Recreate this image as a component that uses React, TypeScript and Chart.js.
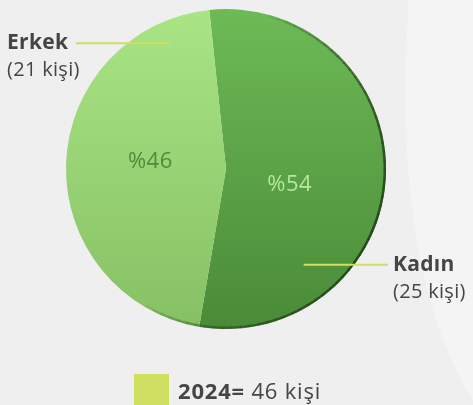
import React, { useEffect, useRef } from "react";
import { Chart, registerables } from "chart.js";

Chart.register(...registerables);

// ---- data ----
const categories = ["Kadın", "Erkek"];
const counts = [25, 21];
const percentLabels = ["%54", "%46"];
const countLabels = ["(25 kişi)", "(21 kişi)"];
const legendYear = "2024=";
const legendUnit = "kişi";

const FONT = "'Open Sans', Lato, sans-serif";
const TEXT = "#454545";
const ACCENT = "#d0de62";

const bgPlugin = {
  id: "bgPlugin",
  beforeDraw(chart: any) {
    const { ctx, width, height } = chart;
    ctx.save();
    ctx.fillStyle = "#efefef";
    ctx.fillRect(0, 0, width, height);
    ctx.beginPath();
    ctx.moveTo(width * 0.864, 0);
    ctx.bezierCurveTo(width * 0.845, height * 0.35, width * 0.86, height * 0.72, width, height * 0.99);
    ctx.lineTo(width, 0);
    ctx.closePath();
    ctx.fillStyle = "#f4f4f4";
    ctx.fill();
    ctx.restore();
  },
};

const labelPlugin = {
  id: "labelPlugin",
  afterDatasetsDraw(chart: any) {
    const { ctx, chartArea } = chart;
    const meta = chart.getDatasetMeta(0);
    const arcs = meta.data;
    if (!arcs.length) return;
    ctx.save();
    // 3D-like dark rim on right side, fading at both ends
    const a0: any = arcs[0].getProps(["x", "y", "outerRadius"], true);
    const s0 = -1.3;
    const s1 = 2.1;
    const steps = 60;
    ctx.lineWidth = 2.5;
    ctx.lineCap = "butt";
    for (let k = 0; k < steps; k++) {
      const u = (k + 0.5) / steps;
      const alpha = Math.pow(Math.sin(Math.PI * u), 0.7) * 0.85;
      ctx.beginPath();
      ctx.arc(a0.x, a0.y, a0.outerRadius - 1.2, s0 + (s1 - s0) * (k / steps), s0 + (s1 - s0) * ((k + 1) / steps) + 0.005);
      ctx.strokeStyle = `rgba(32,62,22,${alpha.toFixed(3)})`;
      ctx.stroke();
    }

    // percentage labels inside slices
    const pctColors = ["#b6e79b", "#4f8c3a"];
    const pctFrac = [0.56, 0.52];
    const pctRad = [0.41, 0.475];
    ctx.font = `400 22px ${FONT}`;
    (ctx as any).letterSpacing = "0.5px";
    ctx.textAlign = "center";
    ctx.textBaseline = "middle";
    arcs.forEach((arc: any, i: number) => {
      const p = arc.getProps(["x", "y", "startAngle", "endAngle", "outerRadius"], true);
      const a = p.startAngle + (p.endAngle - p.startAngle) * pctFrac[i];
      const r = p.outerRadius * pctRad[i];
      ctx.fillStyle = pctColors[i];
      ctx.fillText(percentLabels[i], p.x + Math.cos(a) * r, p.y + Math.sin(a) * r);
    });
    (ctx as any).letterSpacing = "0px";

    // leader lines + outer labels
    const lineFrac = [0.751, 0.89];
    const lineRad = [0.77, 0.86];
    arcs.forEach((arc: any, i: number) => {
      const p = arc.getProps(["x", "y", "startAngle", "endAngle", "outerRadius"], true);
      const a = p.startAngle + (p.endAngle - p.startAngle) * lineFrac[i];
      const r = p.outerRadius * lineRad[i];
      const ix = p.x + Math.cos(a) * r;
      const iy = p.y + Math.sin(a) * r;
      const right = Math.cos(a) > 0;
      const ex = right ? chartArea.right + 2 : chartArea.left + 10;
      ctx.beginPath();
      ctx.moveTo(ix, iy);
      ctx.lineTo(ex, iy);
      ctx.strokeStyle = ACCENT;
      ctx.lineWidth = 2;
      ctx.stroke();
      const tx = right ? ex + 5 : 7;
      ctx.textAlign = "left";
      ctx.textBaseline = "alphabetic";
      ctx.fillStyle = TEXT;
      (ctx as any).letterSpacing = "0.3px";
      ctx.font = `700 21px ${FONT}`;
      ctx.fillText(categories[i], tx, iy + 6);
      ctx.font = `400 20px ${FONT}`;
      ctx.fillText(countLabels[i], tx, iy + 33);
      (ctx as any).letterSpacing = "0px";
    });

    // custom legend
    const total = counts.reduce((s, v) => s + v, 0);
    const h = chart.height;
    const lx = chartArea.left + 68;
    const ly = h - 31;
    ctx.fillStyle = ACCENT;
    ctx.fillRect(lx, ly, 35, 35);
    ctx.fillStyle = TEXT;
    (ctx as any).letterSpacing = "0.8px";
    ctx.font = `700 22px ${FONT}`;
    ctx.textAlign = "left";
    ctx.textBaseline = "alphabetic";
    const t1 = legendYear;
    ctx.fillText(t1, lx + 44, h - 6);
    const w1 = ctx.measureText(t1).width;
    ctx.font = `400 22px ${FONT}`;
    ctx.fillText(` ${total} ${legendUnit}`, lx + 44 + w1, h - 6);
    (ctx as any).letterSpacing = "0px";
    ctx.restore();
  },
};

export default function App() {
  const ref = useRef<HTMLCanvasElement>(null);
  useEffect(() => {
    if (!ref.current) return;
    const chart = new Chart(ref.current, {
      type: "pie",
      data: {
        labels: categories,
        datasets: [
          {
            data: counts,
            borderWidth: 0,
            backgroundColor: (c: any) => {
              const ch = c.chart;
              const area = ch.chartArea;
              if (!area) return c.dataIndex === 0 ? "#5fa84a" : "#9ed77b";
              const g = ch.ctx.createLinearGradient(0, area.top, 0, area.bottom);
              if (c.dataIndex === 0) {
                g.addColorStop(0, "#6dba56");
                g.addColorStop(1, "#4a8a38");
              } else {
                g.addColorStop(0, "#a9e585");
                g.addColorStop(1, "#86c064");
              }
              return g;
            },
          },
        ],
      },
      options: {
        animation: false,
        responsive: false,
        maintainAspectRatio: false,
        rotation: -6,
        layout: { padding: { left: 66, right: 87, top: 9, bottom: 76 } },
        plugins: {
          legend: { display: false },
          tooltip: { enabled: false },
        },
      },
      plugins: [bgPlugin, labelPlugin],
    });
    return () => chart.destroy();
  }, []);
  return (
    <div style={{ position: "fixed", left: 0, top: 0, width: 473, height: 405 }}>
      <canvas ref={ref} width={473} height={405} style={{ width: 473, height: 405 }} />
    </div>
  );
}
